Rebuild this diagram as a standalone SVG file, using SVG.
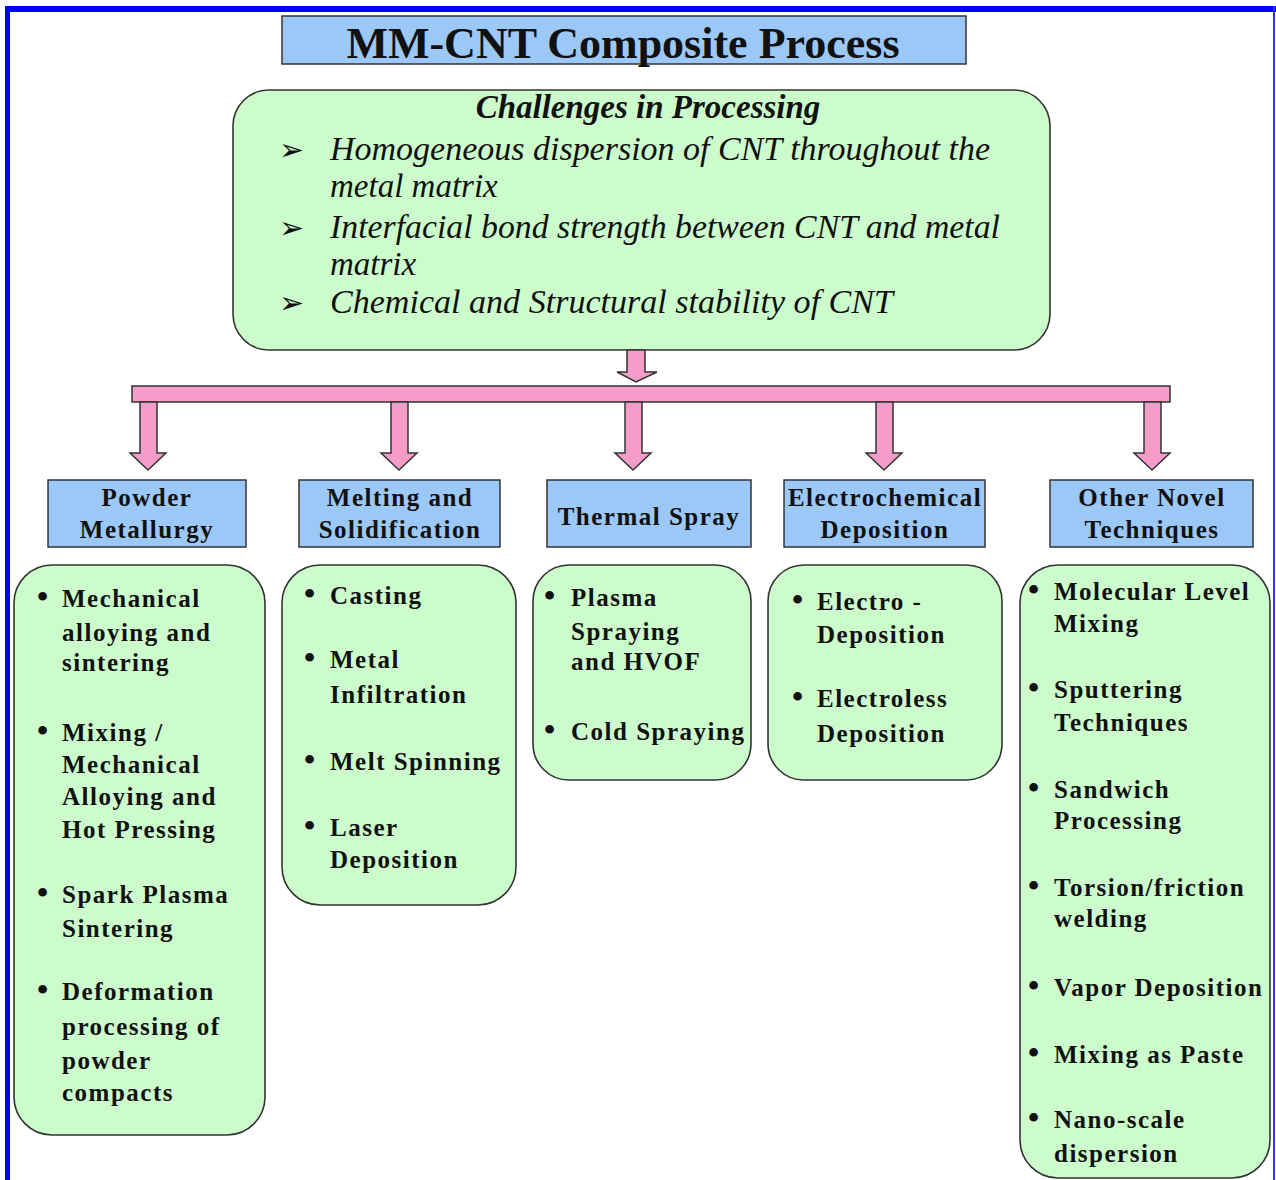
<svg xmlns="http://www.w3.org/2000/svg" width="1276" height="1180" viewBox="0 0 1276 1180">
<style>
.hdr{fill:#9cc8f8;stroke:#333;stroke-width:1.5}
.grn{fill:#ccfccc;stroke:#333;stroke-width:1.6}
.pink{fill:#f59cc8;stroke:#333;stroke-width:1.5}
.ht{font-family:"Liberation Serif","Times New Roman",serif;font-weight:bold;font-size:25px;letter-spacing:1.5px;fill:#111;text-anchor:middle}
.it{font-family:"Liberation Serif","Times New Roman",serif;font-weight:bold;font-size:25px;letter-spacing:1.5px;fill:#111}
.bul{font-family:"Liberation Serif","Times New Roman",serif;font-weight:bold;font-size:32px;fill:#111}
.ch{font-family:"Liberation Serif","Times New Roman",serif;font-style:italic;font-size:33px;fill:#111}
.arr{font-family:"DejaVu Sans",sans-serif;font-size:30px;fill:#111}
</style>
<rect width="1276" height="1180" fill="#fff"/>
<g id="frame">
<rect x="5" y="6" width="5" height="1174" fill="#0000ff"/>
<rect x="5" y="6" width="1271" height="6" fill="#0000ff"/>
<rect x="1273" y="6" width="2" height="1174" fill="#3333ff"/>
</g>
<g id="title">
<rect x="282" y="16" width="684" height="48" class="hdr"/>
<text x="623" y="58" font-family="Liberation Serif, Times New Roman, serif" font-weight="bold" font-size="44" text-anchor="middle" fill="#111">MM-CNT Composite Process</text>
</g>
<g id="challenges">
<rect x="233" y="90" width="817" height="260" rx="36" class="grn"/>
<text x="648" y="118" font-family="Liberation Serif, Times New Roman, serif" font-weight="bold" font-style="italic" font-size="33" text-anchor="middle" fill="#111">Challenges in Processing</text>
<text x="279" y="160" class="arr">➢</text>
<text x="330" y="160" class="ch" textLength="660" lengthAdjust="spacingAndGlyphs">Homogeneous dispersion of CNT throughout the</text>
<text x="330" y="197" class="ch">metal matrix</text>
<text x="279" y="238" class="arr">➢</text>
<text x="330" y="238" class="ch" textLength="670" lengthAdjust="spacingAndGlyphs">Interfacial bond strength between CNT and metal</text>
<text x="330" y="275" class="ch">matrix</text>
<text x="279" y="313" class="arr">➢</text>
<text x="330" y="313" class="ch" textLength="563" lengthAdjust="spacingAndGlyphs">Chemical and Structural stability of CNT</text>
</g>
<g id="connectors">
<polygon class="pink" points="627,350 645,350 645,372 657,372 636,382 617,372 627,372"/>
<rect x="132" y="386" width="1038" height="16" class="pink"/>
<polygon class="pink" points="140,402 157,402 157,453 166,453 148,470 130,453 140,453"/>
<polygon class="pink" points="391,402 408,402 408,453 417,453 399,470 381,453 391,453"/>
<polygon class="pink" points="625,402 642,402 642,453 651,453 633,470 615,453 625,453"/>
<polygon class="pink" points="876,402 893,402 893,453 902,453 884,470 866,453 876,453"/>
<polygon class="pink" points="1144,402 1161,402 1161,453 1170,453 1152,470 1134,453 1144,453"/>
</g>
<g id="header-powder">
<rect x="48" y="480" width="198" height="67" class="hdr"/>
<text x="147" y="506" class="ht">Powder</text>
<text x="147" y="538" class="ht">Metallurgy</text>
</g>
<g id="header-melting">
<rect x="299" y="480" width="201" height="67" class="hdr"/>
<text x="400" y="506" class="ht">Melting and</text>
<text x="400" y="538" class="ht">Solidification</text>
</g>
<g id="header-thermal">
<rect x="547" y="480" width="204" height="67" class="hdr"/>
<text x="649" y="525" class="ht">Thermal Spray</text>
</g>
<g id="header-electro">
<rect x="784" y="480" width="201" height="67" class="hdr"/>
<text x="885" y="506" class="ht">Electrochemical</text>
<text x="885" y="538" class="ht">Deposition</text>
</g>
<g id="header-other">
<rect x="1050" y="480" width="203" height="67" class="hdr"/>
<text x="1152" y="506" class="ht">Other Novel</text>
<text x="1152" y="538" class="ht">Techniques</text>
</g>
<g id="list-powder">
<rect x="14" y="565" width="251" height="570" rx="38" class="grn"/>
<text x="37" y="607" class="bul">•</text>
<text x="62" y="607" class="it">Mechanical</text>
<text x="62" y="641" class="it">alloying and</text>
<text x="62" y="671" class="it">sintering</text>
<text x="37" y="741" class="bul">•</text>
<text x="62" y="741" class="it">Mixing /</text>
<text x="62" y="773" class="it">Mechanical</text>
<text x="62" y="805" class="it">Alloying and</text>
<text x="62" y="838" class="it">Hot Pressing</text>
<text x="37" y="903" class="bul">•</text>
<text x="62" y="903" class="it">Spark Plasma</text>
<text x="62" y="937" class="it">Sintering</text>
<text x="37" y="1000" class="bul">•</text>
<text x="62" y="1000" class="it">Deformation</text>
<text x="62" y="1035" class="it">processing of</text>
<text x="62" y="1069" class="it">powder</text>
<text x="62" y="1101" class="it">compacts</text>
</g>
<g id="list-melting">
<rect x="282" y="565" width="234" height="340" rx="38" class="grn"/>
<text x="304" y="604" class="bul">•</text>
<text x="330" y="604" class="it">Casting</text>
<text x="304" y="668" class="bul">•</text>
<text x="330" y="668" class="it">Metal</text>
<text x="330" y="703" class="it">Infiltration</text>
<text x="304" y="770" class="bul">•</text>
<text x="330" y="770" class="it">Melt Spinning</text>
<text x="304" y="836" class="bul">•</text>
<text x="330" y="836" class="it">Laser</text>
<text x="330" y="868" class="it">Deposition</text>
</g>
<g id="list-thermal">
<rect x="533" y="565" width="218" height="215" rx="36" class="grn"/>
<text x="544" y="606" class="bul">•</text>
<text x="571" y="606" class="it">Plasma</text>
<text x="571" y="640" class="it">Spraying</text>
<text x="571" y="670" class="it">and HVOF</text>
<text x="544" y="740" class="bul">•</text>
<text x="571" y="740" class="it">Cold Spraying</text>
</g>
<g id="list-electro">
<rect x="768" y="565" width="234" height="215" rx="36" class="grn"/>
<text x="792" y="610" class="bul">•</text>
<text x="817" y="610" class="it">Electro -</text>
<text x="817" y="643" class="it">Deposition</text>
<text x="792" y="707" class="bul">•</text>
<text x="817" y="707" class="it">Electroless</text>
<text x="817" y="742" class="it">Deposition</text>
</g>
<g id="list-other">
<rect x="1020" y="565" width="250" height="613" rx="38" class="grn"/>
<text x="1028" y="600" class="bul">•</text>
<text x="1054" y="600" class="it">Molecular Level</text>
<text x="1054" y="632" class="it">Mixing</text>
<text x="1028" y="698" class="bul">•</text>
<text x="1054" y="698" class="it">Sputtering</text>
<text x="1054" y="731" class="it">Techniques</text>
<text x="1028" y="798" class="bul">•</text>
<text x="1054" y="798" class="it">Sandwich</text>
<text x="1054" y="829" class="it">Processing</text>
<text x="1028" y="896" class="bul">•</text>
<text x="1054" y="896" class="it">Torsion/friction</text>
<text x="1054" y="927" class="it">welding</text>
<text x="1028" y="996" class="bul">•</text>
<text x="1054" y="996" class="it">Vapor Deposition</text>
<text x="1028" y="1063" class="bul">•</text>
<text x="1054" y="1063" class="it">Mixing as Paste</text>
<text x="1028" y="1128" class="bul">•</text>
<text x="1054" y="1128" class="it">Nano-scale</text>
<text x="1054" y="1162" class="it">dispersion</text>
</g>
</svg>
